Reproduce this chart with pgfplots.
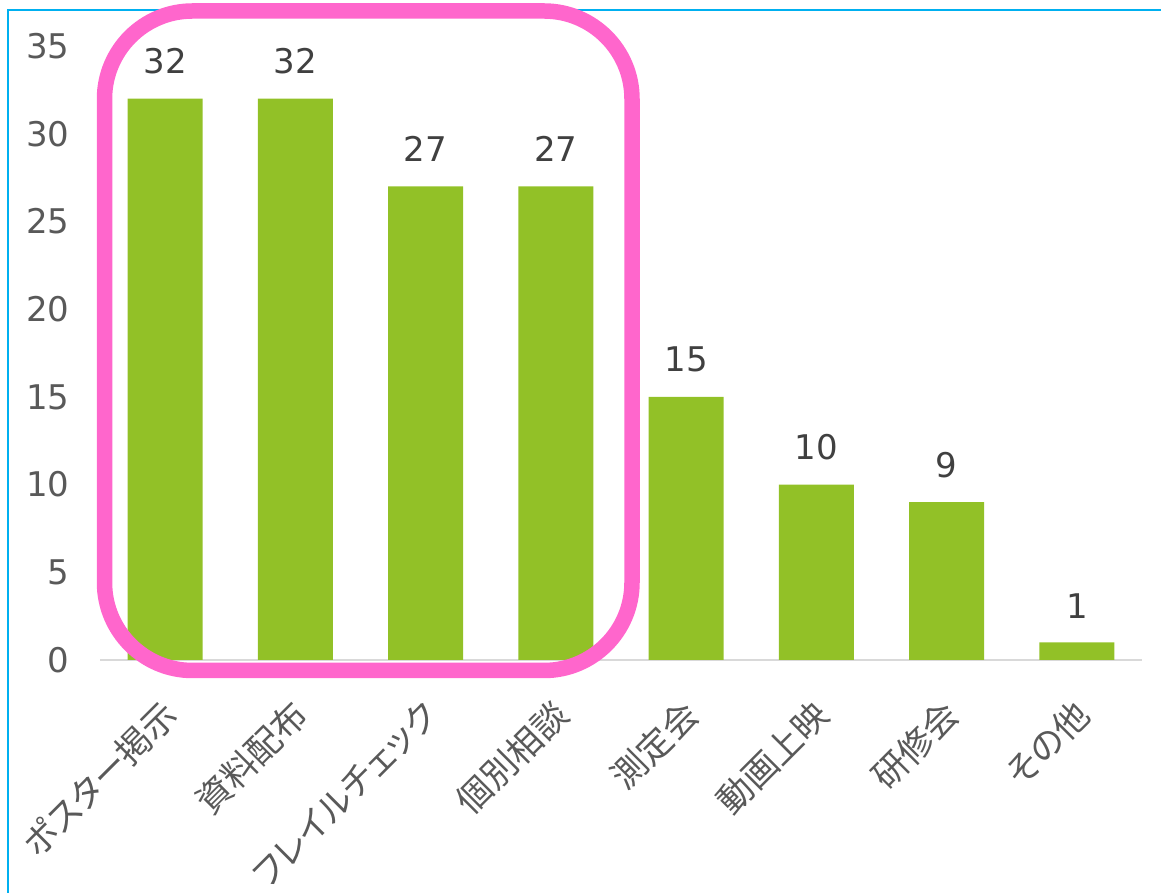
\documentclass[border=0pt]{standalone}
\usepackage{fontspec}
\setmainfont{DejaVu Sans}
\newfontfamily\jp[RawFeature=+palt]{Noto Sans CJK JP}
\usepackage{pgfplots}
\pgfplotsset{compat=1.18}
\definecolor{barGreen}{HTML}{92C127}
\definecolor{frameBlue}{HTML}{00B0F0}
\definecolor{markPink}{HTML}{FF66CC}
\definecolor{tickGray}{HTML}{595959}
\definecolor{valGray}{HTML}{404040}
\definecolor{axisGray}{HTML}{D9D9D9}

\begin{document}
\begin{tikzpicture}
\useasboundingbox (0,0) rectangle (580.5pt,446.5pt);
% frame of the original picture (only left and top edges are visible)
\draw[frameBlue, line width=1pt] (4pt,-30pt) -- (4pt,441.5pt) -- (620pt,441.5pt);
\begin{axis}[
    at={(50pt,116.5pt)}, anchor=south west,
    scale only axis,
    width=521pt, height=307pt,
    ybar, bar width=37.5pt,
    xmin=-0.5, xmax=7.5,
    ymin=0, ymax=35,
    xtick={0,...,7},
    xticklabels={ポスター掲示, 資料配布, フレイルチェック, 個別相談, 測定会, 動画上映, 研修会, その他},
    ytick={0,5,...,35},
    major tick length=0pt,
    axis x line=bottom, axis y line=left,
    x axis line style={-, axisGray, line width=0.75pt},
    y axis line style={draw=none},
    /pgf/number format/assume math mode=true,
    tick label style={text=tickGray},
    yticklabel style={font=\fontsize{17}{20}\selectfont, anchor=east, inner sep=0pt, xshift=-15pt},
    xticklabel style={font=\jp\fontsize{17.5}{20}\selectfont, inner sep=0pt, yshift=-24pt, xshift=3pt, rotate=45, anchor=east},
    nodes near coords,
    nodes near coords style={font=\fontsize{17}{20}\selectfont, text=valGray, anchor=south, inner sep=0pt, yshift=12pt},
]
\addplot[fill=barGreen, draw=none] coordinates {
    (0,32) (1,32) (2,27) (3,27) (4,15) (5,10) (6,9) (7,1)
};
\end{axis}
% highlight box around the first four categories
\draw[markPink, line width=7.75pt, rounded corners=44pt] (52.25pt,111.25pt) rectangle (316pt,441pt);
\end{tikzpicture}
\end{document}
